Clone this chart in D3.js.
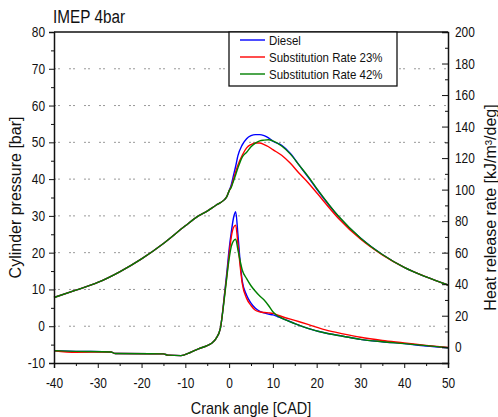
<!DOCTYPE html>
<html lang="en">
<head>
  <meta charset="UTF-8" />
  <title>IMEP 4bar</title>
  <script src="https://d3js.org/d3.v7.min.js"></script>
  <style>
    body {
      margin: 0;
      padding: 0;
      background: white;
      font-family: "Liberation Sans", Arial, sans-serif;
    }
    svg { background: white; display: block; }
    .grid-line {
      stroke: #999;
      stroke-width: 1px;
      stroke-dasharray: 2, 2, 2, 9;
    }
    .axis path, .axis line { stroke: #111; }
    .axis text { fill: #111; font-size: 14px; font-family: "Liberation Sans", Arial, sans-serif; }
    .curve { fill: none; stroke-width: 1.4px; }
  </style>
</head>
<body>
  <svg id="chart" width="498" height="417"></svg>

  <script>
    // crank angle grid for the pressure traces
    const pCad = [-40, -35, -30, -25, -20, -15, -10, -7, -5, -3, -2, -1, -0.5, 0, 0.5, 1, 1.5, 2, 3, 4, 5, 6, 7, 8, 9, 10, 12, 14, 16, 18, 20, 25, 30, 35, 40, 45, 50];
    const pDiesel = [7.8, 9.8, 11.9, 14.8, 18.3, 22.5, 27.3, 30, 31.3, 32.9, 33.6, 34.5, 35.3, 36.8, 38.5, 41, 43.5, 46.3, 49.3, 51, 51.8, 52.1, 52.1, 51.8, 51.2, 50.3, 49.2, 47, 43.8, 40.6, 37.3, 29.8, 24, 19.5, 16, 13.4, 11.2];
    const pSub23 = [7.8, 9.8, 11.9, 14.8, 18.3, 22.5, 27.3, 30, 31.3, 32.9, 33.6, 34.5, 35.3, 36.8, 38, 40, 42, 43.8, 46.5, 48.5, 49.4, 49.8, 49.8, 49.4, 48.8, 48, 46.5, 44.3, 41.6, 39.1, 36.3, 29.3, 23.7, 19.4, 16, 13.4, 11.2];
    const pSub42 = [7.8, 9.8, 11.9, 14.8, 18.3, 22.5, 27.3, 30, 31.3, 32.9, 33.6, 34.5, 35.3, 36.8, 37.8, 39.5, 41.2, 43, 46, 47.3, 48.8, 49.8, 50.4, 50.6, 50.7, 50.4, 49, 46.8, 43.8, 40.8, 37.5, 29.9, 24, 19.5, 16, 13.4, 11.2];

    // crank angle grid for the heat release traces
    const hCad = [-40, -35, -27, -26, -15, -14, -11, -9, -7, -5, -4, -3, -2, -1, -0.5, 0, 0.5, 1, 1.5, 2, 2.5, 3, 4, 5, 6, 7, 8, 9, 10, 11, 12, 15, 18, 22, 26, 30, 35, 40, 45, 50];
    const hDiesel = [-2.2, -2.6, -3.0, -4.0, -4.2, -5.0, -5.3, -3.5, -1.0, 1.0, 2.5, 5.5, 12, 35, 48, 62, 73, 82, 86, 72, 55, 42, 33, 28, 24.7, 22.8, 21.8, 21, 20.5, 19.5, 18.5, 15, 12, 9, 7, 5, 3.5, 2.3, 0.8, -0.3];
    const hSub23 = [-2.2, -3.2, -3.0, -4.0, -4.2, -5.0, -5.3, -3.5, -1.0, 1.0, 2.5, 5.5, 12, 34, 46, 59, 70, 76, 77.5, 66, 52, 40.5, 31, 26.5, 23.5, 22.5, 22, 21.8, 21.5, 20.5, 19.5, 17, 14.5, 11, 8.5, 6.3, 4.3, 2.8, 1.2, -0.2];
    const hSub42 = [-2.2, -2.6, -3.0, -4.0, -4.2, -5.0, -5.3, -3.5, -1.0, 1.0, 2.5, 5.5, 12, 33, 45, 56, 64, 67.5, 68.5, 62, 55, 49, 43.5, 39, 35.5, 32.5, 30, 26.5, 22.5, 20, 18.5, 15, 12, 9, 7, 5, 3.5, 2.3, 1, -0.3];

    const seriesNames = ["Diesel", "Substitution Rate 23%", "Substitution Rate 42%"];
    const seriesColors = ["#0000ff", "#ff0000", "#008000"];

    const xTicks = [-40, -30, -20, -10, 0, 10, 20, 30, 40, 50];
    const yLeftTicks = [-10, 0, 10, 20, 30, 40, 50, 60, 70, 80];
    const yRightTicks = [0, 20, 40, 60, 80, 100, 120, 140, 160, 180, 200];
    const gridTicks = [0, 10, 20, 30, 40, 50, 60, 70];

    const plot = { left: 54, right: 448, top: 32, bottom: 363 };
    const squeezeK = 0.85; // source picture is slightly condensed horizontally

    const svg = d3.select("#chart");

    const x = d3.scaleLinear().domain([-40, 50]).range([plot.left, plot.right]);
    const yL = d3.scaleLinear().domain([-10, 80]).range([plot.bottom, plot.top]);
    const yR = d3.scaleLinear().domain([-10, 200]).range([plot.bottom, plot.top]);

    // plain hyphen for negatives, like the original
    const fmt = d => String(d);

    function squeeze(sel) {
      sel.each(function () {
        const w = this.getComputedTextLength();
        this.setAttribute("textLength", w * squeezeK);
        this.setAttribute("lengthAdjust", "spacingAndGlyphs");
      });
    }

    // dotted grid
    svg.selectAll(".grid-line")
      .data(gridTicks)
      .join("line")
      .attr("class", "grid-line")
      .attr("x1", plot.left)
      .attr("x2", plot.right)
      .attr("y1", d => yL(d))
      .attr("y2", d => yL(d));

    // curves
    const pLine = d3.line().x(d => x(d[0])).y(d => yL(d[1])).curve(d3.curveMonotoneX);
    const hLine = d3.line().x(d => x(d[0])).y(d => yR(d[1])).curve(d3.curveMonotoneX);

    const pSeries = [pDiesel, pSub23, pSub42];
    const hSeries = [hDiesel, hSub23, hSub42];

    pSeries.forEach((vals, i) => {
      svg.append("path")
        .attr("class", "curve")
        .attr("stroke", seriesColors[i])
        .attr("d", pLine(pCad.map((c, j) => [c, vals[j]])));
    });
    hSeries.forEach((vals, i) => {
      svg.append("path")
        .attr("class", "curve")
        .attr("stroke", seriesColors[i])
        .attr("d", hLine(hCad.map((c, j) => [c, vals[j]])));
    });

    // axes
    const xAxis = svg.append("g")
      .attr("class", "axis")
      .attr("transform", `translate(0,${plot.bottom})`)
      .call(d3.axisBottom(x).tickValues(xTicks).tickFormat(fmt).tickSizeOuter(0).tickSize(5).tickPadding(10));
    xAxis.selectAll("text").call(squeeze);
    svg.append("g")
      .attr("class", "axis")
      .attr("transform", `translate(0,${plot.bottom})`)
      .call(d3.axisBottom(x).tickValues(d3.range(-35, 50, 10)).tickSize(3).tickFormat(""))
      .select(".domain").remove();

    const yAxisL = svg.append("g")
      .attr("class", "axis")
      .attr("transform", `translate(${plot.left},0)`)
      .call(d3.axisLeft(yL).tickValues(yLeftTicks).tickFormat(fmt).tickSizeOuter(0).tickSize(5).tickPadding(4));
    yAxisL.selectAll("text").call(squeeze);
    svg.append("g")
      .attr("class", "axis")
      .attr("transform", `translate(${plot.left},0)`)
      .call(d3.axisLeft(yL).tickValues(d3.range(-5, 80, 10)).tickSize(3).tickFormat(""))
      .select(".domain").remove();

    const yAxisR = svg.append("g")
      .attr("class", "axis")
      .attr("transform", `translate(${plot.right},0)`)
      .call(d3.axisRight(yR).tickValues(yRightTicks).tickFormat(fmt).tickSizeOuter(0).tickSize(-6).tickPadding(7));
    yAxisR.selectAll("text").call(squeeze);
    svg.append("g")
      .attr("class", "axis")
      .attr("transform", `translate(${plot.right},0)`)
      .call(d3.axisRight(yR).tickValues(d3.range(10, 200, 20)).tickSize(-3).tickFormat(""))
      .select(".domain").remove();

    svg.selectAll(".axis path.domain").attr("stroke-width", 1.5);

    // top frame line
    svg.append("line")
      .attr("x1", plot.left).attr("x2", plot.right)
      .attr("y1", plot.top).attr("y2", plot.top)
      .attr("stroke", "#111").attr("stroke-width", 1.5);

    // legend
    const legend = { x0: 229, x1: 397, y0: 32, y1: 86 };
    svg.append("rect")
      .attr("x", legend.x0).attr("y", legend.y0)
      .attr("width", legend.x1 - legend.x0).attr("height", legend.y1 - legend.y0)
      .attr("fill", "white").attr("stroke", "#111").attr("stroke-width", 1.3);

    const legRow = d3.scalePoint().domain(seriesNames).range([40, 74]);
    seriesNames.forEach((name, i) => {
      svg.append("line")
        .attr("x1", 240).attr("x2", 265)
        .attr("y1", legRow(name)).attr("y2", legRow(name))
        .attr("stroke", seriesColors[i]).attr("stroke-width", 1.4);
      svg.append("text")
        .attr("x", 269).attr("y", legRow(name))
        .attr("dy", "0.35em")
        .attr("fill", "#111")
        .style("font-size", "13.5px")
        .text(name)
        .call(squeeze);
    });

    // title and axis labels
    svg.append("text")
      .attr("x", 53).attr("y", 23)
      .attr("fill", "#111")
      .style("font-size", "18px")
      .text("IMEP 4bar")
      .call(squeeze);

    svg.append("text")
      .attr("x", (plot.left + plot.right) / 2).attr("y", 414)
      .attr("text-anchor", "middle")
      .attr("fill", "#111")
      .style("font-size", "17px")
      .text("Crank angle [CAD]")
      .call(squeeze);

    svg.append("text")
      .attr("transform", `translate(21,${(plot.top + plot.bottom) / 2}) rotate(-90)`)
      .attr("text-anchor", "middle")
      .attr("fill", "#111")
      .style("font-size", "16px")
      .text("Cylinder pressure [bar]");

    svg.append("text")
      .attr("transform", `translate(496,${(plot.top + plot.bottom) / 2 + 10}) rotate(-90)`)
      .attr("text-anchor", "middle")
      .attr("fill", "#111")
      .style("font-size", "16px")
      .text("Heat release rate [kJ/m³/deg]");
  </script>
</body>
</html>
